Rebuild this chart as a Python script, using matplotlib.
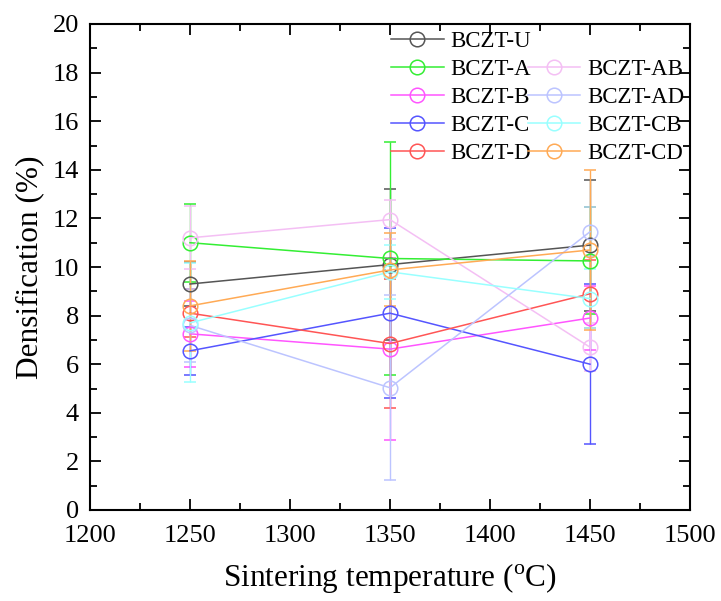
import matplotlib
matplotlib.use("Agg")
import matplotlib.pyplot as plt
from matplotlib.lines import Line2D
from matplotlib.ticker import MultipleLocator

# Sintering temperatures (deg C)
temps = [1250, 1350, 1450]

# Densification (%) and error bars for each composition
u_vals = [9.3, 10.1, 10.9]
u_err = [0.9, 3.1, 2.7]
a_vals = [11.0, 10.35, 10.25]
a_err = [1.6, 4.8, 2.2]
b_vals = [7.25, 6.62, 7.9]
b_err = [1.35, 3.74, 1.3]
c_vals = [6.55, 8.1, 6.0]
c_err = [1.0, 3.5, 3.3]
d_vals = [8.1, 6.85, 8.9]
d_err = [1.0, 2.64, 1.4]
ab_vals = [11.2, 11.95, 6.7]
ab_err = [1.3, 0.8, 1.0]
ad_vals = [7.6, 5.03, 11.45]
ad_err = [1.5, 3.8, 1.0]
cb_vals = [7.7, 9.8, 8.7]
cb_err = [2.45, 1.1, 1.2]
cd_vals = [8.4, 9.88, 10.7]
cd_err = [1.85, 1.5, 3.3]

labels = ["BCZT-U", "BCZT-A", "BCZT-B", "BCZT-C", "BCZT-D",
          "BCZT-AB", "BCZT-AD", "BCZT-CB", "BCZT-CD"]
colors = ["#555555", "#33ee33", "#ff55ff", "#5555ff", "#ff5555",
          "#f4bff4", "#bcc4ff", "#99ffff", "#ffaa55"]
series = [(u_vals, u_err), (a_vals, a_err), (b_vals, b_err), (c_vals, c_err),
          (d_vals, d_err), (ab_vals, ab_err), (ad_vals, ad_err),
          (cb_vals, cb_err), (cd_vals, cd_err)]

plt.rcParams['font.family'] = ['Liberation Serif', 'DejaVu Serif']
plt.rcParams['mathtext.fontset'] = 'custom'
plt.rcParams['mathtext.rm'] = 'Liberation Serif'

fig = plt.figure(figsize=(7.21, 6.01), dpi=100)
ax = fig.add_axes([90 / 721, 91 / 601, 600 / 721, 486 / 601])

handles = []
for (vals, err), lab, col in zip(series, labels, colors):
    ax.errorbar(temps, vals, yerr=err, color=col, ecolor=col, elinewidth=1,
                capsize=4, capthick=1, lw=1.1, marker='o', ms=10.5,
                mfc='none', mec=col, mew=1.1)
    handles.append(Line2D([], [], color=col, lw=1.1, marker='o', ms=10.5,
                          mfc='none', mec=col, mew=1.1, label=lab))

# blank slot so the second column starts one row down
blank = Line2D([], [], color='none', label=' ')
leg_handles = handles[:5] + [blank] + handles[5:]
ax.legend(handles=leg_handles, ncol=2, loc='upper left',
          bbox_to_anchor=(391 / 721, 1 - 31 / 601), bbox_transform=fig.transFigure,
          frameon=False, fontsize=16.5, handlelength=2.3, handletextpad=0.3,
          columnspacing=-0.15, labelspacing=0.3, borderpad=0, borderaxespad=0)

ax.set_xlim(1200, 1500)
ax.set_ylim(0, 20)
ax.xaxis.set_major_locator(MultipleLocator(50))
ax.xaxis.set_minor_locator(MultipleLocator(25))
ax.yaxis.set_major_locator(MultipleLocator(2))
ax.yaxis.set_minor_locator(MultipleLocator(1))
ax.tick_params(which='both', direction='in', top=True, right=True,
               width=1.3, labelsize=19)
ax.tick_params(which='major', length=8)
ax.tick_params(which='minor', length=5)
ax.tick_params(axis='x', pad=11)
ax.tick_params(axis='y', pad=8)
for s in ax.spines.values():
    s.set_linewidth(1.5)

ax.set_xlabel(r'Sintering temperature ($^{\mathrm{o}}$C)', fontsize=22.5, labelpad=10)
ax.set_ylabel('Densification (%)', fontsize=22.5, labelpad=6)

fig.savefig('out.png', dpi=100)
